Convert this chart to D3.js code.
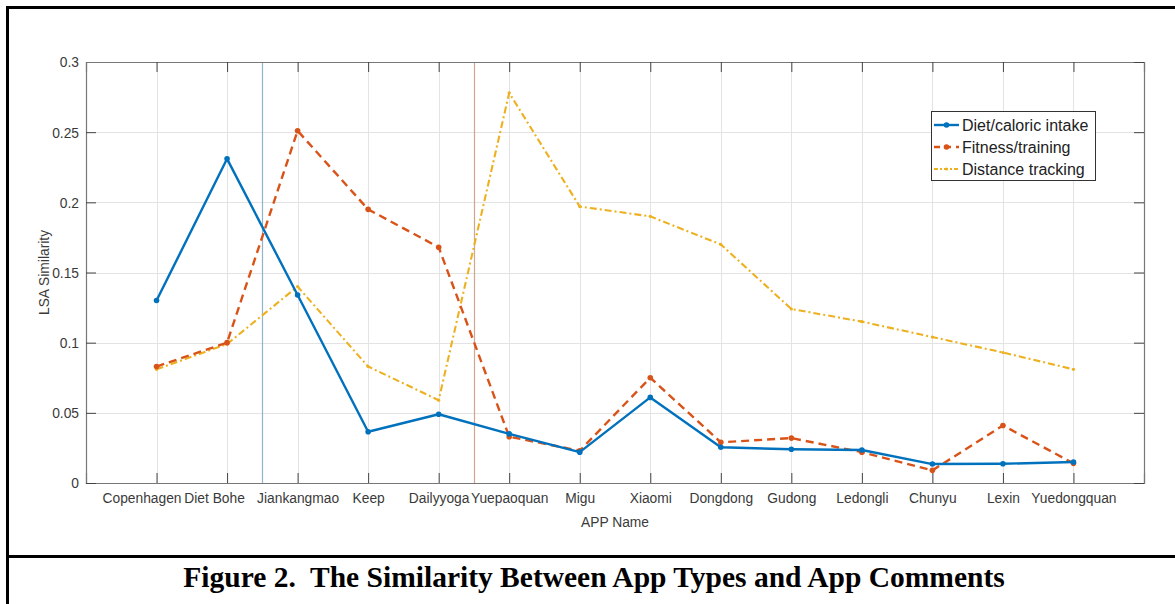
<!DOCTYPE html>
<html>
<head>
<meta charset="utf-8">
<script src="https://cdn.jsdelivr.net/npm/d3@7"></script>
<style>
  html, body { margin: 0; padding: 0; background: #fff; }
  svg { display: block; }
  .tick-label { font-family: "Liberation Sans", Arial, sans-serif; font-size: 13.8px; fill: #3a3a3a; }
  .legend-text { font-family: "Liberation Sans", Arial, sans-serif; font-size: 16px; fill: #222; }
  .caption { font-family: "Liberation Serif", "Times New Roman", serif; font-weight: bold; font-size: 29.5px; fill: #000; white-space: pre; }
</style>
</head>
<body>
<div id="chart"></div>
<script>
// Nama aplikasi (label sumbu X)
const apps = ["Copenhagen", "Diet Bohe", "Jiankangmao", "Keep", "Dailyyoga", "Yuepaoquan", "Migu",
    "Xiaomi", "Dongdong", "Gudong", "Ledongli", "Chunyu", "Lexin", "Yuedongquan"];

// Nilai kemiripan LSA per tipe aplikasi
const dietValues = [0.130, 0.231, 0.134, 0.0365, 0.049, 0.035, 0.022, 0.061, 0.0255, 0.024, 0.0235, 0.0135, 0.0137, 0.015];
const fitnessValues = [0.083, 0.100, 0.251, 0.195, 0.168, 0.033, 0.023, 0.075, 0.029, 0.032, 0.022, 0.009, 0.041, 0.014];
const distanceValues = [0.081, 0.099, 0.140, 0.083, 0.059, 0.278, 0.197, 0.190, 0.170, 0.124, 0.115, 0.104, 0.093, 0.081];

const seriesNames = ["Diet/caloric intake", "Fitness/training", "Distance tracking"];
const yTicks = [0, 0.05, 0.1, 0.15, 0.2, 0.25, 0.3];
const separators = [2.5, 5.5];

const W = 1175, H = 604;
const margin = { left: 86, right: 31, top: 62, bottom: 121 };
const width = W - margin.left - margin.right;
const height = H - margin.top - margin.bottom;

const svg = d3.select("#chart").append("svg")
    .attr("width", W).attr("height", H);

// Bingkai luar gambar
svg.append("rect")
    .attr("x", 7.5).attr("y", 7.5)
    .attr("width", W + 10).attr("height", H + 10)
    .attr("fill", "none").attr("stroke", "#000").attr("stroke-width", 3);
svg.append("line")
    .attr("x1", 7).attr("x2", W).attr("y1", 556.5).attr("y2", 556.5)
    .attr("stroke", "#000").attr("stroke-width", 3);

const g = svg.append("g").attr("transform", `translate(${margin.left},${margin.top})`);

const x = d3.scaleLinear().domain([0, apps.length + 1]).range([0, width]);
const y = d3.scaleLinear().domain([0, 0.3]).range([height, 0]);
const xTicks = d3.range(1, apps.length + 1);

// Grid
g.append("g").selectAll("line").data(xTicks).join("line")
    .attr("x1", d => Math.round(x(d)) + 0.5).attr("x2", d => Math.round(x(d)) + 0.5)
    .attr("y1", 0).attr("y2", height)
    .attr("stroke", "#e3e3e3");
g.append("g").selectAll("line").data(yTicks.slice(1, -1)).join("line")
    .attr("x1", 0).attr("x2", width)
    .attr("y1", d => Math.round(y(d)) + 0.5).attr("y2", d => Math.round(y(d)) + 0.5)
    .attr("stroke", "#e3e3e3");

// Garis pemisah vertikal
const sepColors = ["#8fb4cc", "#d0a68f"];
g.append("g").selectAll("line").data(separators).join("line")
    .attr("x1", d => Math.round(x(d)) + 0.5).attr("x2", d => Math.round(x(d)) + 0.5)
    .attr("y1", 0).attr("y2", height)
    .attr("stroke", (d, i) => sepColors[i]).attr("stroke-width", 1.2);

// Sumbu (kotak dengan tick ke dalam)
const axisColor = "#444";
const bottomAxis = g.append("g").attr("transform", `translate(0,${height})`)
    .call(d3.axisBottom(x).tickValues(xTicks).tickSize(-10).tickPadding(10)
        .tickFormat(d => apps[d - 1]));
const leftAxis = g.append("g")
    .call(d3.axisLeft(y).tickValues(yTicks).tickSize(-10).tickPadding(7)
        .tickFormat(d => d === 0 ? "0" : String(d)));
const topAxis = g.append("g")
    .call(d3.axisTop(x).tickValues(xTicks).tickSize(-10).tickFormat(""));
const rightAxis = g.append("g").attr("transform", `translate(${width},0)`)
    .call(d3.axisRight(y).tickValues(yTicks).tickSize(-10).tickFormat(""));

[bottomAxis, leftAxis, topAxis, rightAxis].forEach(a => {
    a.select(".domain").attr("stroke", "#777").attr("stroke-width", 1.2);
    a.selectAll(".tick line").attr("stroke", axisColor);
    a.selectAll(".tick text").attr("class", "tick-label").attr("font-size", null).attr("font-family", null).attr("fill", null);
});
leftAxis.selectAll(".tick text").attr("dy", "0.35em");
// dua label pertama di gambar asli bergeser sedikit ke kiri
bottomAxis.selectAll(".tick text").attr("dx", d => d === 1 ? -15 : d === 2 ? -13 : 0);

// Label sumbu
g.append("text")
    .attr("class", "tick-label")
    .attr("x", width / 2).attr("y", height + 44)
    .attr("text-anchor", "middle")
    .text("APP Name");
g.append("text")
    .attr("class", "tick-label")
    .attr("transform", "rotate(-90)")
    .attr("x", -height / 2).attr("y", -37)
    .attr("text-anchor", "middle")
    .text("LSA Similarity");

// Seri data
const series = [
    { name: seriesNames[0], values: dietValues, color: "#0072BD", dash: null, width: 2.4, r: 2.8 },
    { name: seriesNames[1], values: fitnessValues, color: "#D95319", dash: "8,5", width: 2.4, r: 2.8 },
    { name: seriesNames[2], values: distanceValues, color: "#EDB120", dash: "7,3,2,3", width: 2.1, r: 1.6 }
];

const line = d3.line().x((d, i) => x(i + 1)).y(d => y(d));

series.slice().reverse().forEach(s => {
    g.append("path")
        .datum(s.values)
        .attr("fill", "none")
        .attr("stroke", s.color)
        .attr("stroke-width", s.width)
        .attr("stroke-dasharray", s.dash)
        .attr("stroke-linejoin", "round")
        .attr("d", line);
    g.append("g").selectAll("circle").data(s.values).join("circle")
        .attr("cx", (d, i) => x(i + 1))
        .attr("cy", d => y(d))
        .attr("r", s.r)
        .attr("fill", s.color);
});

// Legenda
const legend = svg.append("g").attr("transform", "translate(931,111)");
legend.append("rect")
    .attr("x", 0.5).attr("y", 0.5).attr("width", 164).attr("height", 69)
    .attr("fill", "#fff").attr("stroke", "#333").attr("stroke-width", 1);
series.forEach((s, i) => {
    const yy = 14 + i * 22;
    legend.append("line")
        .attr("x1", 3).attr("x2", 28).attr("y1", yy).attr("y2", yy)
        .attr("stroke", s.color).attr("stroke-width", s.width)
        .attr("stroke-dasharray", s.dash ? (i === 1 ? "6,5" : "4,2,2,2") : null);
    legend.append("circle").attr("cx", 15.5).attr("cy", yy).attr("r", s.r).attr("fill", s.color);
    legend.append("text")
        .attr("class", "legend-text")
        .attr("x", 31).attr("y", yy).attr("dy", "0.36em")
        .text(s.name);
});

// Judul gambar
svg.append("text")
    .attr("class", "caption")
    .attr("x", 594).attr("y", 587)
    .attr("text-anchor", "middle")
    .text("Figure 2.  The Similarity Between App Types and App Comments");
</script>
</body>
</html>
